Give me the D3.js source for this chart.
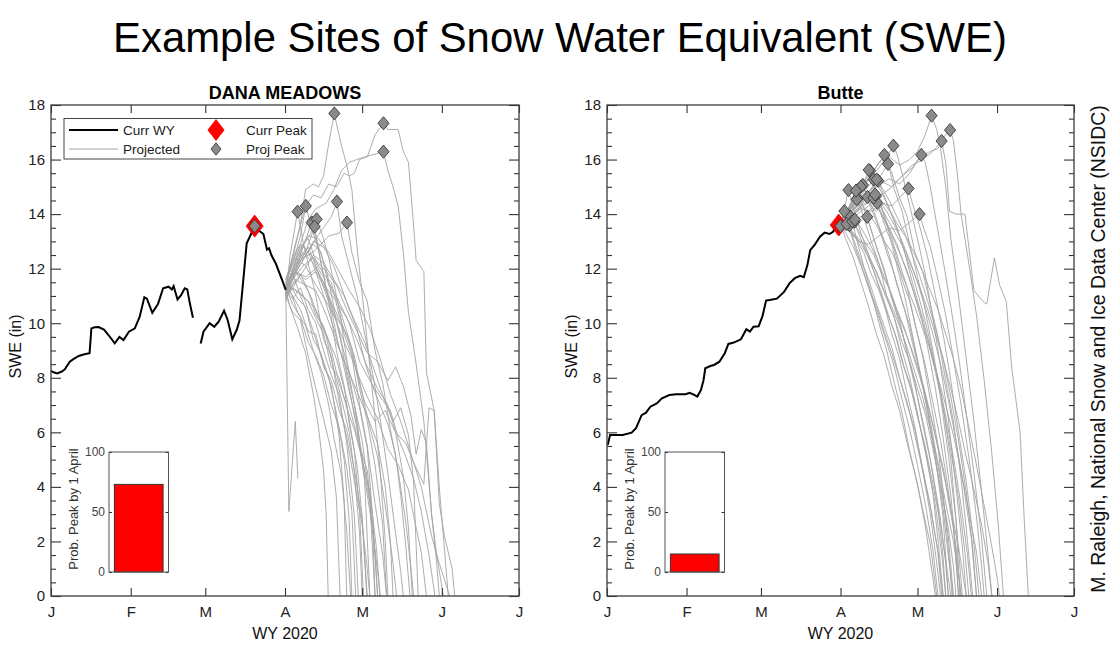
<!DOCTYPE html>
<html><head><meta charset="utf-8">
<script src="https://cdn.jsdelivr.net/npm/d3@7"></script>
<style>
body{margin:0;background:#fff}
svg{display:block}
text{font-family:"Liberation Sans",Arial,Helvetica,sans-serif}
</style>
</head><body>
<svg id="c" width="1120" height="662"></svg>
<script>
// ---------------- DATA ----------------
const mainTitle = "Example Sites of Snow Water Equivalent (SWE)";
const credit = "M. Raleigh, National Snow and Ice Data Center (NSIDC)";
const monthLabels = ["J","F","M","A","M","J","J"];
const yTicks = [0,2,4,6,8,10,12,14,16,18];
const insetTicks = [0,50,100];
const siteNames = ["DANA MEADOWS","Butte"];
const probPeak = [73, 15];            // % probability of peak by 1 April
const legendLabels = ["Curr WY","Projected","Curr Peak","Proj Peak"];

// day = days since 1 Jan 2020, value = SWE (in); null = data gap
const danaCurr = [[0,8.25],[1,8.2],[2.4,8.16],[4,8.22],[5.3,8.3],[7.3,8.59],[9,8.7],[10.8,8.8],[13,8.86],[15,8.9],[15.7,9.81],[17,9.85],[18.5,9.86],[20.6,9.77],[22.5,9.55],[24.8,9.26],[26.6,9.5],[28.2,9.38],[30.3,9.69],[32.6,9.81],[34.5,10.24],[36.3,10.95],[37.3,10.9],[39.4,10.38],[41.6,10.7],[43.6,11.28],[45.7,11.34],[47,11.24],[47.7,11.36],[49.2,10.87],[50.6,11.03],[52,11.28],[53,11.24],[54,10.73],[55.2,10.2],null,
 [58.2,9.26],[59.3,9.69],[61.7,10.0],[63.5,9.87],[65.2,10.06],[67.3,10.46],[68.7,10.12],[70.5,9.41],[72.2,9.75],[73.3,10.1],[74.8,11.6],[76.1,12.93],[77.8,13.27],[79.2,13.54],[80.8,13.4],[82.6,13.27],[84,12.7],[84.8,12.75],[85.7,12.5],[87.5,12.17],[89.6,11.65],[91.3,11.22]];
const danaCurrPeak = [79.2,13.56];
const danaProjPeaks = [[79.2,13.56],[110.2,17.69],[129.3,17.33],[129.3,16.29],[95.9,14.09],[99.1,14.3],[101.4,13.69],[103.3,13.81],[102.5,13.54],[111.2,14.46],[115.1,13.69]];
const danaProj = [
 [[91.3,11.3],[94,12.4],[97,13.6],[99,14.9],[102,15.1],[104,15.0],[106,15.4],[108,16.6],[110.2,17.69],[111.5,17.1],[113,16.5],[115,15.8],[117,14.9],[119,12.8],[122,10.2],[125,7.5],[128,4.6],[130,2.0],[131,0]],
 [[91.3,11.4],[95,12.9],[99,14.3],[102,14.7],[105,14.6],[108,15.1],[111,15.0],[114,15.5],[116,15.4],[118,15.5],[120,16.0],[123,16.1],[126,16.9],[129.3,17.33],[131,17.1],[135,17.1],[137,16.3],[139,15.9],[141,13.6],[142,12.3],[145,11.9],[146,8.2],[149,6.8],[151,3.4],[153,2.2],[156,1.0],[157,0]],
 [[91.3,11.1],[96,12.6],[100,13.8],[103,14.2],[107,14.4],[110,14.9],[113,15.6],[116,15.9],[119,16.0],[122,16.1],[126,16.2],[129.3,16.29],[131,15.6],[133,15.0],[135,14.3],[137,12.6],[139,10.4],[142,8.5],[145,6.4],[148,3.0],[150,1.2],[151,0]],
 [[91.3,11.0],[93,12.5],[95.9,14.09],[98,13.0],[100,12.2],[103,11.0],[106,9.4],[109,8.8],[112,7.1],[115,5.8],[118,4.2],[121,2.6],[123,1.0],[124,0]],
 [[91.3,11.5],[94,12.2],[97,13.2],[99.1,14.3],[101,13.6],[104,12.7],[107,11.3],[110,10.5],[113,9.2],[116,7.6],[119,6.1],[122,4.3],[125,2.5],[127,0.9],[128,0]],
 [[91.3,11.2],[95,11.9],[98,12.8],[101.4,13.69],[104,12.8],[107,12.0],[110,10.6],[113,9.9],[116,8.1],[118,7.0],[121,5.1],[124,3.4],[126,1.6],[127,0]],
 [[91.3,10.9],[94,11.6],[98,12.9],[101,13.3],[103.3,13.81],[106,13.1],[108,12.4],[111,11.0],[114,9.6],[117,8.8],[120,7.0],[123,5.5],[126,3.4],[129,1.5],[130.5,0]],
 [[91.3,11.3],[95,12.0],[99,12.6],[102.5,13.54],[105,12.2],[108,10.8],[111,9.0],[114,7.7],[116,6.3],[119,4.8],[121,2.9],[122.8,0]],
 [[91.3,11.6],[94,12.4],[97,12.9],[100,12.6],[103,13.1],[106,13.5],[109,13.9],[111.2,14.46],[113,13.2],[116,12.1],[119,11.0],[122,9.6],[125,8.2],[128,6.5],[131,4.5],[134,2.3],[136,0.9],[137,0]],
 [[91.3,11.2],[94,11.9],[98,12.4],[102,12.6],[105,12.9],[108,13.2],[112,13.3],[115.1,13.69],[117,12.6],[120,11.5],[123,10.8],[126,9.0],[129,7.8],[132,6.1],[135,4.6],[138,2.7],[140,1.0],[141,0]],
 [[91.3,11.2],[92.5,3.1],[95,6.4],[96,4.3]],
 [[91.3,11.2],[93,10.6],[96,9.8],[99,8.9],[102,7.4],[104,6.2],[106,4.6],[107,3.0],[107.8,0]],
 [[91.3,11.0],[94,10.4],[97,10.1],[100,8.8],[103,7.6],[106,6.5],[109,5.3],[111,3.6],[112.4,0]],
 [[91.3,11.4],[94,11.8],[97,11.0],[100,10.3],[103,9.4],[106,8.5],[109,7.7],[112,5.9],[114,3.5],[115,0]],
 [[91.3,10.8],[93,11.4],[96,10.9],[99,10.6],[102,9.4],[105,8.9],[108,8.0],[111,6.7],[114,5.0],[116,2.7],[117,0]],
 [[91.3,11.2],[94,10.9],[97,11.3],[100,10.5],[103,10.0],[106,9.0],[109,8.1],[112,7.4],[115,5.6],[118,2.9],[119.5,0]],
 [[91.3,11.5],[95,11.9],[98,11.5],[101,11.0],[104,10.2],[107,9.5],[110,8.3],[113,7.2],[116,6.0],[118,4.5],[120,2.3],[121,0]],
 [[91.3,11.0],[94,11.4],[97,11.8],[100,11.2],[103,10.3],[106,9.9],[109,9.0],[112,7.8],[115,7.0],[118,5.3],[120,3.1],[121.5,0]],
 [[91.3,11.3],[94,11.0],[97,10.5],[100,9.7],[103,9.6],[106,8.4],[109,7.9],[112,6.8],[115,6.1],[118,4.6],[121,2.8],[123,0]],
 [[91.3,11.1],[95,12.2],[98,12.9],[101,12.4],[104,11.6],[107,10.7],[110,9.8],[113,8.8],[116,7.5],[119,6.3],[122,4.2],[124,0]],
 [[91.3,11.4],[94,11.6],[97,12.3],[100,12.8],[103,12.1],[106,11.3],[109,10.5],[112,9.1],[115,8.3],[118,7.0],[121,5.7],[124,3.5],[126,0]],
 [[91.3,10.9],[94,11.3],[97,11.1],[100,10.8],[103,10.2],[106,9.6],[109,8.4],[112,8.0],[115,6.9],[118,6.1],[121,5.0],[124,3.8],[126.5,1.8],[128,0]],
 [[91.3,11.2],[95,11.8],[99,12.5],[102,12.9],[105,12.6],[108,11.4],[111,10.9],[114,10.0],[117,9.1],[120,7.6],[123,6.4],[126,4.8],[129,2.6],[130.5,0]],
 [[91.3,11.6],[94,12.3],[97,12.8],[100,13.1],[103,12.3],[106,11.8],[109,11.5],[112,10.3],[115,9.5],[118,8.8],[121,7.4],[124,6.2],[127,5.1],[130,3.3],[133,1.2],[134.4,0]],
 [[91.3,11.0],[94,11.7],[98,12.3],[102,13.0],[106,12.8],[110,12.1],[113,11.3],[116,10.5],[119,9.8],[122,8.6],[125,7.7],[128,7.0],[131,6.3],[134,5.2],[136,3.7],[138,1.8],[139.6,0]],
 [[91.3,11.3],[95,12.1],[99,12.7],[103,12.3],[107,11.9],[111,11.4],[115,10.5],[119,9.7],[123,8.9],[127,8.6],[131,7.9],[134,8.4],[137,7.7],[140,6.6],[142,5.2],[144,6.1],[146,5.6],[148,3.0],[150,1.5],[152.6,0]],
 [[91.3,11.1],[94,11.3],[98,11.9],[102,12.5],[106,12.2],[110,11.6],[114,11.0],[118,10.1],[122,9.3],[126,8.2],[130,7.1],[133,6.4],[136,6.9],[139,5.9],[141,4.2],[142.8,0]],
 [[91.3,11.4],[95,11.9],[99,11.6],[103,11.9],[107,11.2],[111,10.2],[115,9.6],[119,8.2],[123,7.3],[127,6.5],[131,5.4],[135,4.8],[139,3.9],[142,2.5],[144,1.6],[146,0]],
 [[91.3,11.2],[94,12.0],[98,12.6],[102,12.2],[106,11.5],[110,10.3],[114,9.3],[118,8.5],[122,7.1],[126,6.4],[130,6.8],[134,6.0],[138,5.6],[141,4.9],[145,4.1],[147,6.9],[149,6.8],[151,4.0],[154.5,0]],
 [[91.3,11.3],[94,10.7],[97,10.2],[100,9.3],[103,8.8],[106,8.1],[109,7.0],[112,6.2],[115,4.7],[117,3.1],[118.5,0]],
 [[91.3,10.9],[93,11.2],[96,10.4],[99,9.9],[102,9.0],[105,8.2],[108,7.0],[110,5.8],[113,4.4],[115,2.4],[116.5,0]],
 [[91.3,11.5],[95,12.4],[99,12.1],[103,11.4],[107,10.8],[111,10.1],[114,8.9],[117,7.9],[120,6.9],[123,5.4],[125,3.0],[127,0]],
 [[91.3,11.0],[95,11.6],[99,11.4],[103,11.2],[107,10.3],[111,9.3],[115,8.4],[119,7.5],[123,6.6],[127,5.6],[130,4.0],[132,2.0],[133,0]],
 [[91.3,11.2],[94,11.6],[98,12.1],[102,12.4],[105,11.8],[108,11.5],[112,10.8],[116,10.0],[120,8.6],[124,7.9],[128,7.3],[132,6.8],[135,5.8],[138,5.1],[141,4.3],[144,3.1],[147,1.5],[149.3,0]],
 [[91.3,11.4],[95,11.2],[99,10.9],[103,10.5],[107,9.6],[111,8.7],[114,7.6],[117,6.6],[120,5.5],[123,4.6],[125,2.8],[126,0]],
 [[91.3,11.1],[95,11.9],[99,11.7],[103,12.0],[107,11.3],[111,10.8],[115,10.2],[119,9.4],[123,8.4],[127,7.6],[131,7.0],[134,6.0],[137,4.4],[139,2.5],[140.5,0]],
 [[91.3,11.3],[96,12.5],[100,13.2],[104,13.1],[108,12.6],[112,11.9],[116,11.2],[120,10.6],[124,9.8],[128,8.7],[132,7.4],[136,6.4],[140,5.2],[144,4.0],[148,2.2],[151,1.2],[155,0]]
];

const butteCurr = [[0.3,5.54],[1.2,5.9],[3,5.9],[6.1,5.9],[9.6,5.99],[11.3,6.15],[13.5,6.63],[15.2,6.72],[16.9,6.94],[19.4,7.06],[21.4,7.25],[24.3,7.37],[27,7.4],[30.6,7.4],[32.2,7.45],[34,7.37],[35.2,7.31],[36.6,7.55],[37.6,7.9],[38.3,8.35],[40.3,8.43],[41.7,8.47],[43.8,8.59],[45.9,8.9],[47.3,9.24],[49.4,9.29],[52.2,9.41],[54.3,9.78],[55.7,9.69],[57.1,9.87],[59.1,9.89],[60.6,10.26],[62,10.83],[63.4,10.85],[66.2,10.9],[69,11.15],[71.1,11.46],[73.2,11.65],[75.3,11.74],[76.7,11.69],[78.1,12.13],[79.2,12.68],[80.9,12.87],[83,13.17],[84.8,13.32],[86.7,13.27],[88.1,13.35],[89.2,13.54],[90.7,13.66]];
const butteCurrPeak = [90.3,13.6];
const butteProjPeaks = [[91,13.56],[126.5,17.61],[133.7,17.08],[130.4,16.68],[122.5,16.17],[111.6,16.51],[108.1,16.17],[109.5,15.84],[102.5,15.59],[103.9,15.27],[105.7,15.22],[117.5,14.94],[121.8,14.0],[94.1,14.88],[97.6,14.88],[99.7,15.07],[97.6,14.58],[101.5,14.63],[104.8,14.66],[105.3,14.42],[94.8,13.9],[101.4,13.9],[92.5,14.11],[94.5,13.6],[96.5,13.72],[93.4,13.64],[95.6,13.73],[103.8,14.6],[104.5,14.72],[97.3,14.54],[98.9,15.0],[97,14.86],[96.6,13.8],[102,15.62],[105.1,15.27]];
const butteProj = [
 [[91,13.6],[95,14.0],[99,14.5],[103,14.9],[107,15.2],[111,15.0],[115,15.4],[119,15.8],[123,16.0],[127,16.3],[130.4,16.68],[132,15.9],[133.5,14.1],[136,14.0],[139.5,14.0],[141,12.8],[143,11.2],[146.5,10.8],[148,10.7],[151,12.4],[153,11.4],[155.6,10.8],[157.7,8.4],[161,6.0],[162.5,3.0],[164.2,0]],
 [[91,13.6],[94,14.2],[98,14.8],[102,15.3],[106,15.9],[110,16.1],[114,15.8],[118,16.0],[121,16.3],[124,16.9],[126.5,17.61],[128.5,17.1],[130,16.4],[132,15.0],[134,13.1],[137,11.0],[140,8.7],[143,6.4],[146,3.8],[148.5,1.5],[150,0]],
 [[91,13.6],[95,14.1],[100,14.6],[105,15.0],[110,15.3],[114,15.1],[118,15.5],[122,16.1],[126,16.3],[129,16.4],[131,16.8],[133.7,17.08],[135,16.7],[136.5,15.5],[138,14.0],[141,12.2],[144,10.3],[147,7.9],[150,5.2],[152.5,2.6],[154.5,0]],
 [[91,13.6],[95,13.9],[99,14.4],[103,14.8],[107,14.7],[111,15.0],[115,15.4],[119,15.7],[122.5,16.17],[124,15.9],[126,15.0],[128,13.9],[131,12.3],[134,10.6],[137,8.8],[140,6.7],[143,4.5],[146,2.1],[148,0]],
 [[91,13.6],[94,14.1],[98,14.6],[102,15.3],[106,15.7],[109,16.1],[111.6,16.51],[113,16.2],[115,15.5],[118,14.3],[121,13.1],[124,11.8],[127,10.2],[130,8.4],[133,6.5],[136,4.0],[138.5,1.8],[140,0]],
 [[91,13.6],[94,14.2],[97,14.7],[101,15.2],[104,15.6],[108.1,16.17],[110,15.7],[112,14.9],[115,14.1],[118,12.9],[121,11.7],[124,10.5],[127,9.0],[130,7.3],[133,5.2],[136,2.8],[138.5,0]],
 [[91,13.6],[95,14.0],[99,14.5],[103,14.9],[106,15.3],[109.5,15.84],[111,15.5],[114,14.6],[117,13.9],[120,12.6],[123,11.9],[126,10.7],[129,9.5],[132,7.9],[135,6.4],[138,4.3],[140.5,2.0],[142.5,0]],
 [[91,13.6],[94,14.1],[97,14.6],[100,15.1],[102.5,15.59],[104,15.0],[107,14.2],[110,13.3],[113,12.1],[116,11.0],[119,9.6],[122,8.2],[125,6.7],[128,5.0],[131,3.2],[133,1.5],[135,0]],
 [[91,13.6],[94,13.9],[97,14.4],[100,14.8],[103.9,15.27],[105,14.8],[108,14.0],[111,13.1],[114,12.2],[117,11.3],[120,10.0],[123,8.8],[126,7.2],[129,5.5],[131.5,3.3],[133.5,1.2],[134.5,0]],
 [[91,13.6],[95,14.0],[99,14.5],[102,14.8],[105.7,15.22],[107,14.9],[110,14.2],[113,13.5],[116,12.6],[119,11.5],[122,10.5],[125,9.1],[128,7.6],[131,5.8],[134,3.7],[136,1.6],[137,0]],
 [[91,13.6],[95,13.9],[99,14.2],[103,14.1],[107,14.4],[111,14.3],[114,14.6],[117.5,14.94],[119,14.4],[122,13.5],[125,12.4],[128,11.0],[131,9.6],[134,7.9],[137,6.0],[140,4.2],[143,1.9],[145,0]],
 [[91,13.6],[94,13.4],[98,13.0],[102,12.9],[106,13.2],[110,13.5],[114,13.4],[118,13.7],[121.8,14.0],[123,13.6],[126,12.8],[129,11.6],[132,10.3],[135,8.7],[138,7.0],[141,5.1],[144,2.9],[146,1.1],[147,0]],
 [[91,13.6],[92.5,14.2],[94.1,14.88],[96,14.2],[99,13.3],[102,12.5],[105,11.6],[108,10.7],[111,9.6],[114,8.7],[117,7.4],[120,6.2],[123,4.6],[126,3.0],[128.5,1.2],[130,0]],
 [[91,13.6],[94,14.1],[97.6,14.88],[99,14.5],[102,13.7],[105,12.8],[108,12.0],[111,10.9],[114,10.1],[117,8.9],[120,7.8],[123,6.3],[126,5.0],[129,3.2],[131,1.4],[132,0]],
 [[91,13.6],[94,14.0],[97,14.5],[99.7,15.07],[101,14.8],[104,14.1],[107,13.3],[110,12.5],[113,11.4],[116,10.5],[119,9.3],[122,8.2],[125,6.8],[128,5.1],[131,2.9],[133,0]],
 [[91,13.6],[94,14.0],[97.6,14.58],[100,13.9],[103,13.0],[106,12.2],[109,11.0],[112,10.2],[115,9.0],[118,8.0],[121,6.7],[124,5.3],[127,3.8],[129.5,1.6],[131,0]],
 [[91,13.6],[95,13.9],[98,14.2],[101.5,14.63],[103,14.2],[106,13.5],[109,12.6],[112,11.8],[115,10.8],[118,9.9],[121,8.6],[124,7.4],[127,5.9],[130,4.2],[133,2.2],[135,0]],
 [[91,13.6],[95,13.8],[99,14.1],[102,14.3],[104.8,14.66],[106,14.2],[109,13.4],[112,12.7],[115,11.6],[118,10.8],[121,9.6],[124,8.5],[127,7.1],[130,5.7],[133,3.9],[136,1.8],[138,0]],
 [[91,13.6],[95,13.7],[99,13.9],[102,14.1],[105.3,14.42],[107,14.0],[110,13.5],[113,12.9],[116,12.1],[119,11.3],[122,10.3],[125,9.4],[128,8.2],[131,6.9],[134,5.3],[137,3.6],[139.5,1.6],[141,0]],
 [[91,13.6],[94.8,13.9],[97,13.2],[100,12.1],[103,11.1],[106,10.0],[109,9.0],[112,7.8],[115,6.7],[118,5.3],[121,4.1],[124,2.6],[126.5,1.0],[128,0]],
 [[91,13.6],[95,13.5],[98,13.7],[101.4,13.9],[103,13.4],[106,12.5],[109,11.6],[112,10.6],[115,9.7],[118,8.5],[121,7.3],[124,6.0],[127,4.5],[130,2.8],[132,1.2],[133,0]],
 [[91,13.6],[92.5,14.11],[94,13.6],[97,12.7],[100,11.9],[103,11.0],[106,10.2],[109,9.3],[112,8.4],[115,7.2],[118,6.1],[121,4.8],[124,3.4],[127,1.7],[129,0]],
 [[91,13.6],[94.5,13.6],[96,13.1],[99,12.3],[102,11.6],[105,10.7],[108,9.9],[111,9.1],[114,8.0],[117,7.0],[120,6.1],[123,4.7],[126,3.3],[129,1.6],[130.5,0]],
 [[91,13.6],[93,13.4],[96.5,13.72],[98,13.3],[101,12.6],[104,11.9],[107,11.1],[110,10.2],[113,9.4],[116,8.3],[119,7.4],[122,6.2],[125,4.9],[128,3.3],[130.5,1.5],[132,0]],
 [[91,13.6],[93,13.1],[96,12.4],[99,11.5],[102,10.6],[105,9.6],[108,8.8],[111,7.7],[114,6.8],[117,5.6],[120,4.5],[123,3.2],[126,1.9],[128.5,0]],
 [[91,13.6],[93,13.3],[96,12.8],[99,12.1],[102,11.3],[105,10.6],[108,9.7],[111,8.9],[114,8.0],[117,7.1],[120,5.9],[123,4.6],[126,3.3],[129,1.6],[131,0]],
 [[91,13.6],[94,13.5],[97,13.1],[100,12.6],[103,11.8],[106,11.2],[109,10.4],[112,9.7],[115,8.6],[118,7.8],[121,6.6],[124,5.5],[127,4.1],[130,2.6],[132.5,1.0],[134,0]],
 [[91,13.6],[94,13.4],[97,13.2],[100,12.9],[103,12.3],[106,11.6],[109,10.9],[112,10.2],[115,9.3],[118,8.6],[121,7.6],[124,6.7],[127,5.4],[130,4.0],[133,2.5],[135,1.1],[136,0]],
 [[91,13.6],[93.4,13.64],[96,13.3],[99,12.9],[102,12.4],[105,11.9],[108,11.2],[111,10.6],[114,9.9],[117,9.1],[120,8.2],[123,7.3],[126,6.1],[129,4.9],[132,3.4],[135,2.0],[137,0.8],[138,0]],
 [[91,13.6],[93,13.5],[95.6,13.73],[98,13.4],[101,12.9],[104,12.5],[107,11.8],[110,11.3],[113,10.5],[116,9.8],[119,8.9],[122,8.0],[125,7.0],[128,5.9],[131,4.7],[134,3.2],[137,1.8],[139,0.6],[140,0]],
 [[91,13.6],[94,13.8],[97,14.1],[100,14.3],[103.8,14.6],[105,14.3],[108,13.8],[111,13.2],[114,12.6],[117,11.9],[120,11.0],[123,10.2],[126,9.1],[129,8.0],[132,6.6],[135,5.1],[138,3.3],[140.5,1.5],[142,0]],
 [[91,13.6],[95,13.9],[99,14.3],[102,14.5],[104.5,14.72],[106,14.5],[109,14.1],[112,13.6],[115,13.0],[118,12.3],[121,11.5],[124,10.6],[127,9.6],[130,8.5],[133,7.2],[136,5.7],[139,4.0],[142,2.1],[144,0]],
 [[91,13.6],[94,14.0],[97.3,14.54],[99,14.4],[102,14.0],[105,13.6],[108,13.0],[111,12.6],[114,12.0],[117,11.3],[120,10.6],[123,9.8],[126,9.0],[129,8.0],[132,7.0],[135,5.9],[138,4.6],[141,3.1],[144,1.6],[146,0]],
 [[91,13.6],[94,14.1],[96,14.6],[98.9,15.0],[101,14.8],[104,14.5],[107,14.2],[110,13.7],[113,13.2],[116,12.7],[119,12.0],[122,11.3],[125,10.5],[128,9.6],[131,8.7],[134,7.6],[137,6.4],[140,5.1],[143,3.9],[146,2.6],[148.5,1.2],[150,0]],
 [[91,13.6],[94,14.2],[97,14.86],[99,14.6],[102,14.4],[105,14.1],[108,14.4],[111,14.0],[114,13.5],[117,13.1],[120,12.5],[123,11.9],[126,11.2],[129,10.5],[132,9.6],[135,8.7],[138,7.6],[141,6.2],[144,4.8],[147,3.3],[150,1.8],[152,0.7],[153,0]],
 [[91,13.6],[93,13.4],[96.6,13.8],[99,13.5],[102,13.0],[105,12.4],[108,11.7],[111,11.0],[114,10.2],[117,9.5],[120,8.7],[123,7.8],[126,6.7],[129,5.4],[132,4.1],[135,2.5],[137,0]],
 [[91,13.6],[94,14.0],[97,14.6],[100,15.1],[102,15.62],[104,15.3],[107,14.8],[110,14.2],[113,13.5],[116,12.6],[119,11.8],[122,10.8],[125,9.7],[128,8.4],[131,6.9],[134,5.0],[136,2.8],[137.5,0]],
 [[91,13.6],[95,14.1],[99,14.4],[102,14.8],[105.1,15.27],[107,15.0],[110,14.5],[113,13.9],[116,13.3],[119,12.5],[122,11.7],[125,10.8],[128,9.8],[131,8.7],[134,7.3],[137,5.7],[140,3.8],[142.5,1.8],[144,0]]
];

// ---------------- DRAW ----------------
const svg = d3.select("#c");
const FONT = '"Liberation Sans",Arial,Helvetica,sans-serif';
const T0 = new Date(Date.UTC(2020,0,1));
const dayToDate = d => new Date(T0.getTime() + d*864e5);
const monthStarts = d3.utcMonth.range(T0, new Date(Date.UTC(2020,6,2)));
const AX = "#333";

svg.append("rect").attr("width",1120).attr("height",662).attr("fill","#fff");

// main title, fitted to its width in the reference
const title = svg.append("text").attr("x",560).attr("y",52).attr("text-anchor","middle")
  .attr("font-size",42).attr("fill","#000").text(mainTitle);
{ const L = title.node().getComputedTextLength(); title.attr("font-size", 42*894/L); }

// credit text
const cr = svg.append("text").attr("transform","translate(1105,349) rotate(-90)")
  .attr("text-anchor","middle").attr("font-size",19.5).attr("fill","#111").text(credit);
{ const L = cr.node().getComputedTextLength(); cr.attr("font-size", 19.5*488/L); }

function diamond(w,h){ return `M0,${-h}L${w},0L0,${h}L${-w},0Z`; }

const panels = [
  {name:siteNames[0], left:51, right:519, curr:danaCurr, currPeak:danaCurrPeak, proj:danaProj, peaks:danaProjPeaks, prob:probPeak[0], legend:true},
  {name:siteNames[1], left:607, right:1074, curr:butteCurr, currPeak:butteCurrPeak, proj:butteProj, peaks:butteProjPeaks, prob:probPeak[1], legend:false}
];
const plotTop = 105, plotBottom = 596;

panels.forEach(p => {
  const W = p.right - p.left, H = plotBottom - plotTop;
  const g = svg.append("g").attr("transform",`translate(${p.left},${plotTop})`);
  const x = d3.scaleUtc().domain([T0, monthStarts[monthStarts.length-1]]).range([0,W]);
  const y = d3.scaleLinear().domain([0,18]).range([H,0]);

  // panel title
  g.append("text").attr("x",W/2).attr("y",-6).attr("text-anchor","middle")
    .attr("font-size",18).attr("font-weight","bold").attr("fill","#000").text(p.name);

  const line = d3.line().defined(d => d).x(d => x(dayToDate(d[0]))).y(d => y(d[1]));

  // projections
  g.append("g").selectAll("path").data(p.proj).join("path")
    .attr("d", line).attr("fill","none").attr("stroke","#a4a4a4").attr("stroke-width",0.9);

  // current WY
  g.append("path").datum(p.curr).attr("d",line).attr("fill","none")
    .attr("stroke","#000").attr("stroke-width",2);

  // current peak
  g.append("path").attr("d",diamond(8.5,11))
    .attr("transform",`translate(${x(dayToDate(p.currPeak[0]))},${y(p.currPeak[1])})`)
    .attr("fill","#ff0000").attr("stroke","#e00000").attr("stroke-width",0.8);

  // projected peaks
  g.append("g").selectAll("path").data(p.peaks).join("path")
    .attr("d",diamond(5.6,6.6))
    .attr("transform",d => `translate(${x(dayToDate(d[0]))},${y(d[1])})`)
    .attr("fill","#8a8a8a").attr("stroke","#3a3a3a").attr("stroke-width",0.9);

  // axes
  const minor = d3.range(0,18.01,0.5).filter(v => v % 2 !== 0);
  const style = sel => { sel.select(".domain").remove();
    sel.selectAll(".tick line").attr("stroke",AX).attr("stroke-width",1.1);
    sel.selectAll(".tick text").attr("fill","#222").attr("font-family",FONT); };
  g.append("g").call(d3.axisLeft(y).tickValues(yTicks).tickSizeInner(-10).tickSizeOuter(0).tickPadding(6))
    .call(style).selectAll(".tick text").attr("font-size",15);
  g.append("g").call(d3.axisLeft(y).tickValues(minor).tickSize(-5).tickFormat(""))
    .call(style);
  g.append("g").attr("transform",`translate(${W},0)`)
    .call(d3.axisRight(y).tickValues(yTicks).tickSizeInner(-10).tickSizeOuter(0).tickFormat("")).call(style);
  g.append("g").attr("transform",`translate(${W},0)`)
    .call(d3.axisRight(y).tickValues(minor).tickSize(-5).tickFormat("")).call(style);
  g.append("g").attr("transform",`translate(0,${H})`)
    .call(d3.axisBottom(x).tickValues(monthStarts).tickFormat((d,i)=>monthLabels[i])
      .tickSizeInner(-8).tickSizeOuter(0).tickPadding(10))
    .call(style).selectAll(".tick text").attr("font-size",15);
  g.append("g").call(d3.axisTop(x).tickValues(monthStarts).tickSizeInner(-8).tickSizeOuter(0).tickFormat(""))
    .call(style);
  g.append("rect").attr("width",W).attr("height",H).attr("fill","none")
    .attr("stroke","#3c3c3c").attr("stroke-width",1.3);

  // axis labels
  g.append("text").attr("x",W/2).attr("y",H+43).attr("text-anchor","middle")
    .attr("font-size",16).attr("fill","#111").text("WY 2020");
  g.append("text").attr("transform",`translate(${-30},${H/2-4}) rotate(-90)`).attr("text-anchor","middle")
    .attr("font-size",16).attr("fill","#111").text("SWE (in)");

  // inset probability bar
  const ib = {x:58, y:347, w:59.5, h:120};
  const ig = g.append("g").attr("transform",`translate(${ib.x},${ib.y})`);
  const iy = d3.scaleLinear().domain([0,100]).range([ib.h,0]);
  const ix = d3.scaleBand().domain(["p"]).range([0,ib.w]).padding(0.1);
  ig.append("rect").attr("width",ib.w).attr("height",ib.h).attr("fill","#fff");
  ig.append("rect").attr("x",ix("p")).attr("y",iy(p.prob)).attr("width",ix.bandwidth())
    .attr("height",ib.h-iy(p.prob)).attr("fill","#ff0000").attr("stroke","#333").attr("stroke-width",1);
  ig.append("g").call(d3.axisLeft(iy).tickValues(insetTicks).tickSizeInner(-3).tickSizeOuter(0).tickPadding(4))
    .call(style).selectAll(".tick text").attr("font-size",12).attr("fill","#444");
  ig.append("g").attr("transform",`translate(${ib.w},0)`)
    .call(d3.axisRight(iy).tickValues(insetTicks).tickSizeInner(-3).tickSizeOuter(0).tickFormat("")).call(style);
  ig.append("rect").attr("width",ib.w).attr("height",ib.h).attr("fill","none")
    .attr("stroke","#555").attr("stroke-width",1);
  ig.append("text").attr("transform",`translate(${-31},${ib.h/2-3}) rotate(-90)`).attr("text-anchor","middle")
    .attr("font-size",13).attr("fill","#333").text("Prob. Peak by 1 April");

  // legend
  if (p.legend) {
    const lg = g.append("g").attr("transform","translate(13,13.5)");
    lg.append("rect").attr("width",248).attr("height",40.5).attr("fill","#fff")
      .attr("stroke","#444").attr("stroke-width",1);
    lg.append("line").attr("x1",5).attr("x2",54).attr("y1",11.5).attr("y2",11.5).attr("stroke","#000").attr("stroke-width",2);
    lg.append("line").attr("x1",5).attr("x2",54).attr("y1",30.5).attr("y2",30.5).attr("stroke","#a4a4a4").attr("stroke-width",1);
    lg.append("path").attr("d",diamond(8.5,11)).attr("transform","translate(152,11.5)").attr("fill","#ff0000");
    lg.append("path").attr("d",diamond(5,6.2)).attr("transform","translate(152,30.5)")
      .attr("fill","#8a8a8a").attr("stroke","#3a3a3a").attr("stroke-width",0.9);
    const pos = [[59,11.5],[59,30.5],[182,11.5],[182,30.5]];
    legendLabels.forEach((t,i)=>{
      lg.append("text").attr("x",pos[i][0]).attr("y",pos[i][1]).attr("dy","0.36em")
        .attr("font-size",13.5).attr("fill","#222").text(t);
    });
  }
});
</script>
</body></html>
